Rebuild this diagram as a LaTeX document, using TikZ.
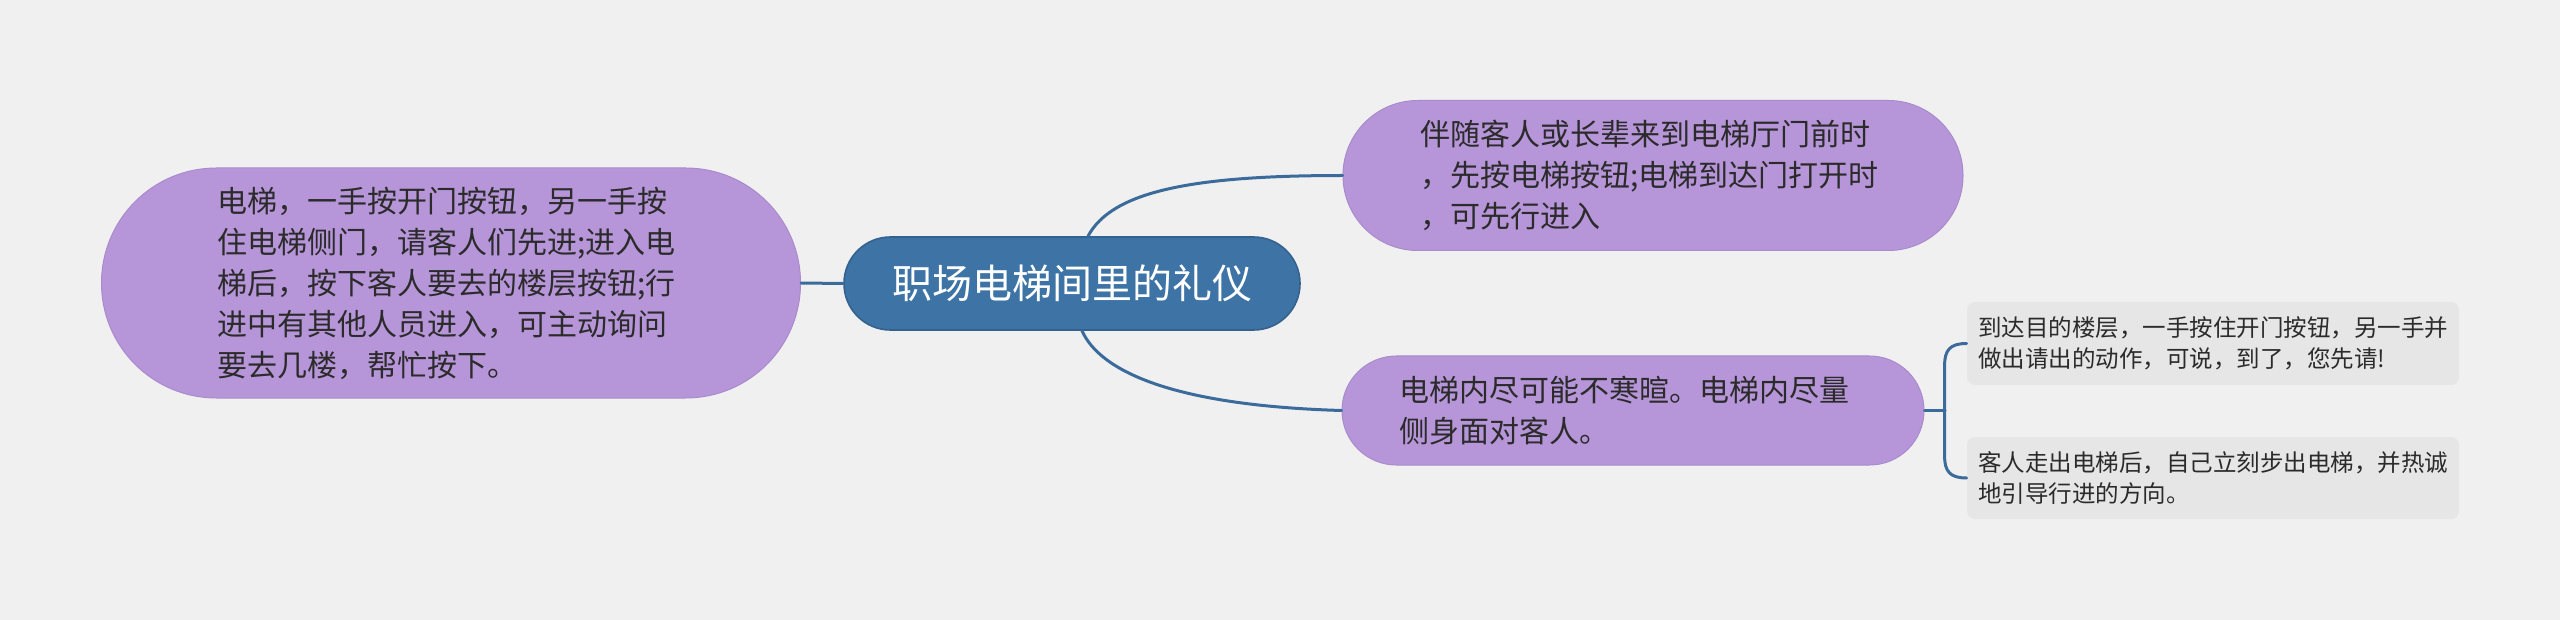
\documentclass[tikz,border=0pt]{standalone}
\usepackage{fontspec}
\newfontfamily\cjk{Noto Sans CJK SC}
\usetikzlibrary{calc}
\definecolor{bgc}{HTML}{F0F0F0}
\definecolor{purfill}{HTML}{B696D8}
\definecolor{purdraw}{HTML}{A98BCC}
\definecolor{rootfill}{HTML}{3E73A6}
\definecolor{rootdraw}{HTML}{33628F}
\definecolor{grayfill}{HTML}{E6E6E6}
\definecolor{linec}{HTML}{3A6B9B}
\definecolor{txt}{HTML}{2B2B2B}
\tikzset{
  rootbox/.style={draw=rootdraw, line width=0.8pt, fill=rootfill, text=white, inner sep=0pt,
    minimum width=228pt, minimum height=46.5pt, rounded corners=23.2pt,
    font=\cjk\fontsize{20pt}{24pt}\selectfont},
  purbox/.style={draw=purdraw, line width=0.5pt, fill=purfill, text=txt, inner sep=0pt,
    font=\cjk\fontsize{15pt}{20.5pt}\selectfont},
  graybox/.style={fill=grayfill, text=txt, inner sep=0pt, rounded corners=4pt,
    minimum width=246pt, font=\cjk\fontsize{11.75pt}{15.5pt}\selectfont},
  conn/.style={draw=linec, line width=1.5pt, line cap=round}
}
\begin{document}
\begin{tikzpicture}[x=0.5pt, y=-0.5pt]
\fill[bgc] (0,0) rectangle (2560,620);
\useasboundingbox (0,0) rectangle (2560,620);

\node[rootbox] (root) at (1072,283.5) {职场电梯间里的礼仪};

\node[purbox, minimum width=349.5pt, minimum height=115pt, rounded corners=57.4pt] (left) at (451,283)
  {\parbox{234pt}{\raggedright 电梯，一手按开门按钮，另一手按\\住电梯侧门，请客人们先进;进入电\\梯后，按下客人要去的楼层按钮;行\\进中有其他人员进入，可主动询问\\要去几楼，帮忙按下。}};

\node[purbox, minimum width=310pt, minimum height=75pt, rounded corners=37.4pt] (A) at (1653,175.5)
  {\parbox{233pt}{\raggedright 伴随客人或长辈来到电梯厅门前时\\，先按电梯按钮;电梯到达门打开时\\，可先行进入}};

\node[purbox, minimum width=291pt, minimum height=54.5pt, rounded corners=27.2pt] (B) at (1633,410.5)
  {\parbox{234pt}{\raggedright 电梯内尽可能不寒暄。电梯内尽量\\侧身面对客人。}};

\node[graybox, minimum height=41.5pt] (C1) at (2213,343.5)
  {\parbox{235pt}{\raggedright 到达目的楼层，一手按住开门按钮，另一手并\\做出请出的动作，可说，到了，您先请!}};

\node[graybox, minimum height=41pt] (C2) at (2213,478)
  {\parbox{235pt}{\raggedright 客人走出电梯后，自己立刻步出电梯，并热诚\\地引导行进的方向。}};

\coordinate (j) at (1945,410.5);

\draw[conn] (root.west) -- (left.east);
\draw[conn] ($(root.north)+(16,0)$) .. controls ($(root.north)+(40,-45)$) and ($(A.west)+(-150,0)$) .. (A.west);
\draw[conn] ($(root.south)+(10,0)$) .. controls ($(root.south)+(28,40)$) and ($(B.west)+(-170,-5)$) .. (B.west);
\draw[conn] (B.east) -- (j);
\draw[conn] (C1.west) .. controls ($(C1.west)+(-17,0)$) and ($(C1.west)+(-22,7)$) .. ($(C1.west)+(-22,22)$)
  -- ($(C2.west)+(-22,-22)$) .. controls ($(C2.west)+(-22,-7)$) and ($(C2.west)+(-17,0)$) .. (C2.west);
\end{tikzpicture}
\end{document}
